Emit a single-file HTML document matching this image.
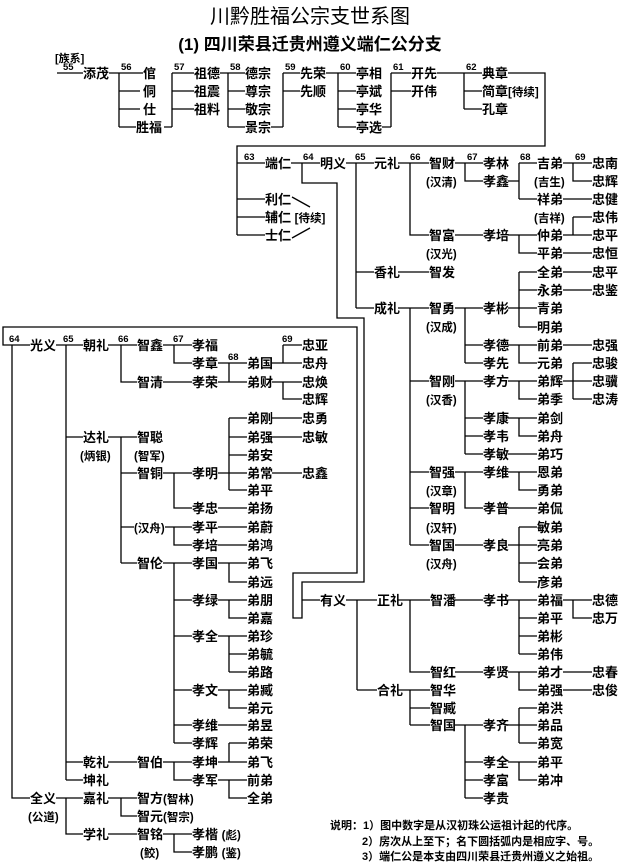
<!DOCTYPE html>
<html><head><meta charset="utf-8"><style>
html,body{margin:0;padding:0;background:#fff;}
svg{display:block;}
text{font-family:"Liberation Sans","Noto Sans CJK SC",sans-serif;font-weight:bold;fill:#000;}
.n{font-size:13px;}
.s{font-size:11.5px;}
.l{font-size:9.5px;}
.t{font-size:11px;}
</style></head><body>
<svg width="620" height="863" viewBox="0 0 620 863" xmlns="http://www.w3.org/2000/svg">
<text x="310" y="23" font-size="20" text-anchor="middle" style="font-weight:normal">川黔胜福公宗支世系图</text>
<text x="310" y="50" font-size="17" text-anchor="middle">(1) 四川荣县迁贵州遵义端仁公分支</text>
<path fill="none" stroke="#000" stroke-width="1.3" d="
M57 73H83 M109 73H143 M119 73V127 M119 91H140 M119 109H140 M119 127H136 M164 127H172 M172 73V127 M172 73H194 M172 91H194 M172 109H194
M220 73H245 M228 73V127 M228 91H245 M228 109H245 M228 127H245 M271 127H283 M283 73V127 M283 73H300 M283 91H300
M326 73H356 M338 73V127 M338 91H356 M338 109H356 M338 127H356 M382 127H391 M391 73V127 M391 73H411 M391 91H411
M437 73H482 M464 73V109 M464 91H482 M464 109H482 M508 73H545V146H237V235 M237 163H265 M237 199H265 M237 217H265 M237 235H265
M291 163H320 M302 163V183H337V318H364V582H302V618H293V573H357V327H3V345H30 M302 600H320
M292 197L310 207 M292 238L310 228
M346 163H374 M356 163V308 M356 272H374 M356 308H374
M398 163H429 M410 163V235H429
M455 163H483 M465 163V181H483
M508 181H519 M519 163V199 M519 163H537 M519 199H537
M563 163H592 M573 163V181H592 M563 199H592
M455 235H483 M508 235H537 M519 235V253H537 M563 235H592 M573 217V235 M573 217H592 M563 253H592
M398 272H429
M398 308H429 M410 308V545 M410 381H429 M410 472H429 M410 508H429 M410 545H429
M455 308H483 M465 308V363 M465 345H483 M465 363H483
M508 308H519 M519 272V327 M519 272H537 M519 290H537 M519 308H537 M519 327H537
M563 272H592 M563 290H592
M508 345H537 M519 345V363H537 M563 345H592
M455 381H483 M465 381V454 M465 418H483 M465 436H483 M465 454H483
M508 381H537 M519 381V399H537 M563 381H592 M573 363V399 M573 363H592 M573 399H592
M508 418H537 M519 418V436H537 M508 454H537
M455 472H483 M465 472V508H483 M508 472H537 M519 472V490H537 M508 508H537
M455 545H483 M508 545H519 M519 527V582 M519 527H537 M519 545H537 M519 563H537 M519 582H537
M346 600H357 M357 600V690 M357 600H377 M357 690H377
M398 600H430 M410 600V672H430 M455 600H483 M508 600H537 M519 600V654 M519 618H537 M519 636H537 M519 654H537 M563 600H592 M573 600V618H592
M455 672H483 M508 672H537 M519 672V690H537 M563 672H592 M563 690H592
M398 690H430 M410 690V725 M410 708H430 M410 725H430 M455 725H483 M508 725H519 M519 708V743 M519 708H537 M519 725H537 M519 743H537 M465 725V798 M465 762H483 M465 780H483 M465 798H483 M508 762H537 M519 762V780H537
M12 345V798H30 M56 345H83 M66 345V780 M66 437H83 M66 762H83 M66 780H83
M108 345H137 M121 345V382H137 M163 345H192 M174 345V363H192 M218 363H247 M229 363V382H247 M163 382H192 M218 382H229
M272 363H302 M283 345V363 M283 345H302 M272 382H302 M283 382V399H302
M108 437H137 M121 437V563 M121 473H137 M121 527H134 M121 563H137
M163 473H192 M174 473V508H192 M218 473H247 M229 418V490 M229 418H247 M229 437H247 M229 455H247 M229 490H247 M272 418H302 M272 437H302 M272 473H302 M218 508H247
M165 527H192 M174 527V545H192 M218 527H247 M218 545H247
M163 563H192 M174 563V743 M174 600H192 M174 636H192 M174 690H192 M174 725H192 M174 743H192
M218 563H247 M229 563V582H247 M218 600H247 M229 600V618H247 M218 636H247 M229 636V672 M229 654H247 M229 672H247 M218 690H247 M229 690V708H247 M218 725H247
M218 762H247 M229 743V762 M229 743H247 M218 780H247 M229 780V798H247
M108 762H137 M163 762H192 M174 762V780H192
M56 798H83 M66 798V834H83 M108 798H137 M121 798V816H137 M108 834H137 M163 834H192 M174 834V852H192
"/>
<g class="l">
<text x="55" y="62" class="t">[族系]</text>
<text x="63" y="70">55</text><text x="121" y="70">56</text><text x="174" y="70">57</text><text x="230" y="70">58</text><text x="285" y="70">59</text><text x="340" y="70">60</text><text x="393" y="70">61</text><text x="466" y="70">62</text>
<text x="244" y="160">63</text><text x="303" y="160">64</text><text x="355" y="160">65</text><text x="410" y="160">66</text><text x="467" y="160">67</text><text x="520" y="160">68</text><text x="575" y="160">69</text>
<text x="9" y="342">64</text><text x="63" y="342">65</text><text x="118" y="342">66</text><text x="173" y="342">67</text><text x="228" y="360">68</text><text x="282" y="342">69</text>
</g>
<g class="n">
<text x="143" y="78">倌</text><text x="143" y="96">侗</text><text x="143" y="114">仕</text>
<text x="83" y="78">添茂</text><text x="136" y="132">胜福</text>
<text x="194" y="78">祖德</text><text x="194" y="96">祖震</text><text x="194" y="114">祖料</text>
<text x="245" y="78">德宗</text><text x="245" y="96">尊宗</text><text x="245" y="114">敬宗</text><text x="245" y="132">景宗</text>
<text x="300" y="78">先荣</text><text x="300" y="96">先顺</text>
<text x="356" y="78">亭相</text><text x="356" y="96">亭斌</text><text x="356" y="114">亭华</text><text x="356" y="132">亭选</text>
<text x="411" y="78">开先</text><text x="411" y="96">开伟</text>
<text x="482" y="78">典章</text><text x="482" y="96">简章<tspan class="s">[待续]</tspan></text><text x="482" y="114">孔章</text>

<text x="265" y="168">端仁</text><text x="265" y="204">利仁</text><text x="265" y="222">辅仁 <tspan class="s">[待续]</tspan></text><text x="265" y="240">士仁</text>
<text x="320" y="168">明义</text><text x="374" y="168">元礼</text><text x="429" y="168">智财</text><text x="483" y="168">孝林</text><text x="483" y="186">孝鑫</text>
<text x="537" y="168">吉弟</text><text x="537" y="204">祥弟</text><text x="592" y="168">忠南</text><text x="592" y="186">忠辉</text><text x="592" y="204">忠健</text>
<text x="592" y="222">忠伟</text><text x="592" y="240">忠平</text><text x="592" y="258">忠恒</text>
<text x="429" y="240">智富</text><text x="483" y="240">孝培</text><text x="537" y="240">仲弟</text><text x="537" y="258">平弟</text>
<text x="374" y="277">香礼</text><text x="429" y="277">智发</text>
<text x="537" y="277">全弟</text><text x="537" y="295">永弟</text><text x="537" y="313">青弟</text><text x="537" y="332">明弟</text>
<text x="592" y="277">忠平</text><text x="592" y="295">忠鉴</text>
<text x="374" y="313">成礼</text><text x="429" y="313">智勇</text><text x="483" y="313">孝彬</text>
<text x="483" y="350">孝德</text><text x="483" y="368">孝先</text><text x="537" y="350">前弟</text><text x="537" y="368">元弟</text><text x="592" y="350">忠强</text>
<text x="592" y="368">忠骏</text><text x="592" y="386">忠骥</text><text x="592" y="404">忠涛</text>
<text x="429" y="386">智刚</text><text x="483" y="386">孝方</text><text x="537" y="386">弟辉</text><text x="537" y="404">弟季</text>
<text x="483" y="423">孝康</text><text x="483" y="441">孝韦</text><text x="483" y="459">孝敏</text><text x="537" y="423">弟剑</text><text x="537" y="441">弟舟</text><text x="537" y="459">弟巧</text>
<text x="429" y="477">智强</text><text x="483" y="477">孝维</text><text x="537" y="477">恩弟</text><text x="537" y="495">勇弟</text>
<text x="429" y="513">智明</text><text x="483" y="513">孝普</text><text x="537" y="513">弟侃</text>
<text x="429" y="550">智国</text><text x="483" y="550">孝良</text>
<text x="537" y="532">敏弟</text><text x="537" y="550">亮弟</text><text x="537" y="568">会弟</text><text x="537" y="587">彦弟</text>
<text x="320" y="605">有义</text><text x="377" y="605">正礼</text><text x="430" y="605">智潘</text><text x="483" y="605">孝书</text>
<text x="537" y="605">弟福</text><text x="537" y="623">弟平</text><text x="537" y="641">弟彬</text><text x="537" y="659">弟伟</text>
<text x="592" y="605">忠德</text><text x="592" y="623">忠万</text>
<text x="430" y="677">智红</text><text x="483" y="677">孝贤</text><text x="537" y="677">弟才</text><text x="537" y="695">弟强</text><text x="592" y="677">忠春</text><text x="592" y="695">忠俊</text>
<text x="377" y="695">合礼</text><text x="430" y="695">智华</text><text x="430" y="713">智臧</text><text x="430" y="730">智国</text><text x="483" y="730">孝齐</text>
<text x="537" y="713">弟洪</text><text x="537" y="730">弟品</text><text x="537" y="748">弟宽</text>
<text x="483" y="767">孝全</text><text x="483" y="785">孝富</text><text x="483" y="803">孝贵</text><text x="537" y="767">弟平</text><text x="537" y="785">弟冲</text>

<text x="30" y="350">光义</text><text x="83" y="350">朝礼</text><text x="137" y="350">智鑫</text><text x="192" y="350">孝福</text><text x="192" y="368">孝章</text>
<text x="247" y="368">弟国</text><text x="247" y="387">弟财</text><text x="302" y="350">忠亚</text><text x="302" y="368">忠舟</text><text x="302" y="387">忠焕</text><text x="302" y="404">忠辉</text>
<text x="137" y="387">智清</text><text x="192" y="387">孝荣</text>
<text x="83" y="442">达礼</text><text x="137" y="442">智聪</text>
<text x="247" y="423">弟刚</text><text x="247" y="442">弟强</text><text x="247" y="460">弟安</text><text x="247" y="478">弟常</text><text x="247" y="495">弟平</text>
<text x="302" y="423">忠勇</text><text x="302" y="442">忠敏</text><text x="302" y="478">忠鑫</text>
<text x="137" y="478">智铜</text><text x="192" y="478">孝明</text><text x="192" y="513">孝忠</text><text x="247" y="513">弟扬</text>
<text x="192" y="532">孝平</text><text x="192" y="550">孝培</text><text x="247" y="532">弟蔚</text><text x="247" y="550">弟鸿</text>
<text x="137" y="568">智伦</text><text x="192" y="568">孝国</text><text x="247" y="568">弟飞</text><text x="247" y="587">弟远</text>
<text x="192" y="605">孝绿</text><text x="247" y="605">弟朋</text><text x="247" y="623">弟嘉</text>
<text x="192" y="641">孝全</text><text x="247" y="641">弟珍</text><text x="247" y="659">弟毓</text><text x="247" y="677">弟路</text>
<text x="192" y="695">孝文</text><text x="247" y="695">弟臧</text><text x="247" y="713">弟元</text>
<text x="192" y="730">孝维</text><text x="247" y="730">弟昱</text>
<text x="192" y="748">孝辉</text><text x="247" y="748">弟荣</text>
<text x="83" y="767">乾礼</text><text x="137" y="767">智伯</text><text x="192" y="767">孝坤</text><text x="247" y="767">弟飞</text>
<text x="83" y="785">坤礼</text><text x="192" y="785">孝军</text><text x="247" y="785">前弟</text><text x="247" y="803">全弟</text>
<text x="30" y="803">全义</text><text x="83" y="803">嘉礼</text><text x="137" y="803">智方<tspan class="s">(智林)</tspan></text><text x="137" y="821">智元<tspan class="s">(智宗)</tspan></text>
<text x="83" y="839">学礼</text><text x="137" y="839">智铭</text><text x="192" y="839">孝楷 <tspan class="s">(彪)</tspan></text><text x="192" y="857">孝鹏 <tspan class="s">(鉴)</tspan></text>
</g>
<g class="s">
<text x="426" y="186">(汉清)</text><text x="534" y="186">(吉生)</text><text x="534" y="222">(吉祥)</text><text x="426" y="258">(汉光)</text>
<text x="426" y="331">(汉成)</text><text x="426" y="404">(汉香)</text><text x="426" y="495">(汉章)</text><text x="426" y="532">(汉轩)</text><text x="426" y="568">(汉舟)</text>
<text x="80" y="460">(炳银)</text><text x="134" y="460">(智军)</text><text x="134" y="532">(汉舟)</text>
<text x="28" y="821">(公道)</text><text x="140" y="857">(鲛)</text>
</g>
<g class="t">
<text x="330" y="829">说明：1）图中数字是从汉初珠公运祖计起的代序。</text>
<text x="362" y="845">2）房次从上至下；名下圆括弧内是相应字、号。</text>
<text x="362" y="860">3）端仁公是本支由四川荣县迁贵州遵义之始祖。</text>
</g>
</svg>
</body></html>
